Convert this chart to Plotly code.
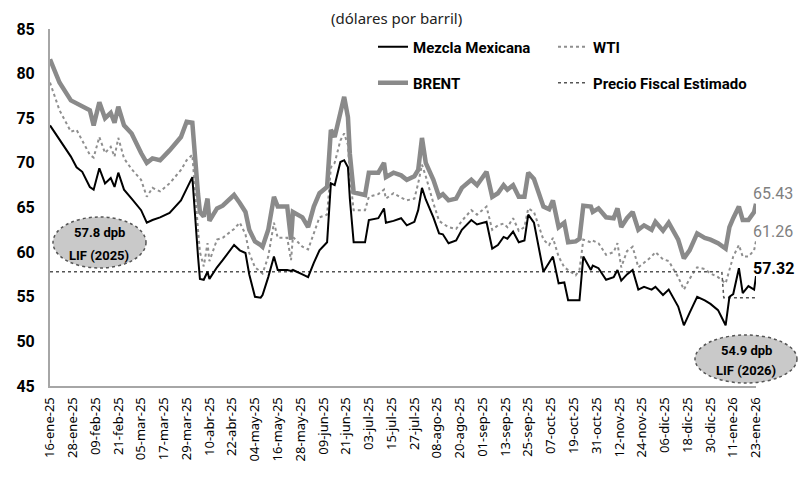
import plotly.graph_objects as go

# ---------------- data ----------------
dates = [
    "2025-01-16","2025-01-21","2025-01-27","2025-01-30","2025-02-02","2025-02-06","2025-02-08","2025-02-11","2025-02-14","2025-02-17",
    "2025-02-19","2025-02-21","2025-02-24","2025-02-28","2025-03-05","2025-03-08","2025-03-11","2025-03-15","2025-03-20","2025-03-26",
    "2025-03-29","2025-04-01","2025-04-04","2025-04-05","2025-04-07","2025-04-09","2025-04-10","2025-04-14","2025-04-17","2025-04-23",
    "2025-04-26","2025-04-29","2025-05-01","2025-05-04","2025-05-07","2025-05-08","2025-05-11","2025-05-14","2025-05-16","2025-05-21",
    "2025-05-23","2025-05-24","2025-05-29","2025-06-01","2025-06-04","2025-06-07","2025-06-11","2025-06-13","2025-06-15","2025-06-18",
    "2025-06-20","2025-06-22","2025-06-23","2025-06-25","2025-07-01","2025-07-03","2025-07-08","2025-07-11","2025-07-12","2025-07-16",
    "2025-07-20","2025-07-23","2025-07-27","2025-07-29","2025-07-31","2025-08-02","2025-08-06","2025-08-09","2025-08-11","2025-08-14",
    "2025-08-18","2025-08-21","2025-08-26","2025-08-29","2025-09-03","2025-09-06","2025-09-09","2025-09-12","2025-09-14","2025-09-17",
    "2025-09-20","2025-09-23","2025-09-25","2025-09-28","2025-10-03","2025-10-06","2025-10-08","2025-10-11","2025-10-14","2025-10-16",
    "2025-10-20","2025-10-22","2025-10-24","2025-10-28","2025-10-29","2025-11-01","2025-11-05","2025-11-09","2025-11-11","2025-11-13",
    "2025-11-16","2025-11-19","2025-11-22","2025-11-25","2025-11-29","2025-12-01","2025-12-05","2025-12-08","2025-12-13","2025-12-16",
    "2025-12-19","2025-12-23","2025-12-27","2025-12-30","2026-01-03","2026-01-07","2026-01-09","2026-01-11","2026-01-14","2026-01-16",
    "2026-01-19","2026-01-22","2026-01-23",
]

brent = [
    81.6,79.0,77.0,76.7,76.3,75.9,74.2,76.8,75.0,75.6,
    74.5,76.3,74.2,73.3,71.1,70.0,70.5,70.3,71.4,72.9,
    74.6,74.5,66.5,64.5,64.0,66.0,63.5,64.9,65.2,66.4,
    65.5,64.5,62.5,61.2,60.8,60.6,62.5,66.2,65.1,65.1,
    61.4,64.5,63.9,62.8,65.1,66.6,67.3,73.7,72.9,75.9,
    77.4,75.1,71.0,66.7,66.4,68.9,68.9,70.0,68.4,68.9,
    68.6,68.1,68.5,69.2,72.8,70.0,68.1,66.2,66.5,65.8,
    66.0,67.2,68.1,67.5,69.0,66.2,66.6,67.5,67.0,67.5,
    66.2,66.2,68.9,68.2,65.1,64.8,65.8,62.8,63.3,61.1,
    61.2,61.5,65.2,65.1,64.5,64.9,63.9,63.8,64.9,62.8,
    63.8,64.5,62.5,63.0,62.5,63.4,62.4,63.3,61.4,59.3,
    60.2,62.1,61.6,61.4,61.0,60.4,62.8,63.8,65.1,63.6,
    63.6,64.5,65.43,
]

wti = [
    79.0,75.9,73.5,73.7,72.5,70.9,70.6,72.9,71.1,71.8,
    70.7,72.8,70.5,69.3,68.1,66.2,67.2,66.8,67.7,69.2,
    70.3,70.9,62.5,60.0,58.4,61.0,59.0,61.4,61.6,62.6,
    63.3,62.0,59.9,58.3,57.8,57.6,59.5,63.3,61.6,61.6,
    59.1,61.7,60.6,60.3,62.1,63.9,64.2,69.5,70.0,72.5,
    73.3,72.0,68.5,64.7,64.7,66.2,66.5,67.0,66.0,66.6,
    66.1,65.8,66.0,67.7,69.8,68.5,65.5,63.5,63.2,62.8,
    62.6,63.5,64.7,64.2,65.1,62.5,63.0,63.2,62.8,63.8,
    62.4,62.8,64.9,64.5,61.4,60.8,61.6,59.5,58.3,58.0,
    57.4,58.0,61.4,61.1,61.3,61.0,59.7,60.0,61.0,58.3,
    60.1,60.6,58.3,58.8,59.5,60.0,59.2,59.0,57.2,55.8,
    57.0,58.3,58.1,57.6,57.2,56.5,58.0,59.5,60.8,59.5,
    59.5,60.2,61.26,
]

mezcla = [
    74.2,72.6,70.7,69.5,69.0,67.3,67.0,69.4,67.7,68.3,
    67.3,68.9,67.0,66.0,64.7,63.3,63.6,63.9,64.4,65.8,
    67.2,68.4,59.5,57.0,56.9,57.8,57.0,58.3,59.1,60.8,
    60.2,59.9,57.5,55.0,54.9,55.2,57.2,59.5,58.0,58.0,
    57.9,58.0,57.5,57.2,58.8,60.2,61.1,67.7,67.5,70.1,
    70.3,69.5,66.0,61.1,61.1,63.6,63.8,64.9,63.3,63.5,
    63.8,63.0,63.4,64.7,67.2,65.9,63.9,62.1,62.0,61.0,
    61.3,62.5,63.6,63.1,63.4,60.4,60.8,61.7,61.5,62.3,
    61.1,61.3,64.2,63.3,57.8,58.8,59.5,56.5,56.6,54.6,
    54.6,54.6,59.5,58.0,58.5,58.2,56.9,57.2,58.0,56.8,
    57.5,58.0,55.8,56.1,55.8,56.1,55.2,55.8,53.9,51.8,
    53.2,55.0,54.6,54.2,53.5,51.8,55.0,55.3,58.2,55.4,
    56.2,55.8,57.32,
]

fiscal_dates = ["2025-01-16", "2026-01-05", "2026-01-06", "2026-01-23"]
fiscal = [57.8, 57.8, 54.9, 54.9]

tick_dates = [
    "2025-01-16","2025-01-28","2025-02-09","2025-02-21","2025-03-05","2025-03-17","2025-03-29","2025-04-10",
    "2025-04-22","2025-05-04","2025-05-16","2025-05-28","2025-06-09","2025-06-21","2025-07-03","2025-07-15",
    "2025-07-27","2025-08-08","2025-08-20","2025-09-01","2025-09-13","2025-09-25","2025-10-07","2025-10-19",
    "2025-10-31","2025-11-12","2025-11-24","2025-12-06","2025-12-18","2025-12-30","2026-01-11","2026-01-23",
]
tick_labels = [
    "16-ene-25","28-ene-25","09-feb-25","21-feb-25","05-mar-25","17-mar-25","29-mar-25","10-abr-25",
    "22-abr-25","04-may-25","16-may-25","28-may-25","09-jun-25","21-jun-25","03-jul-25","15-jul-25",
    "27-jul-25","08-ago-25","20-ago-25","01-sep-25","13-sep-25","25-sep-25","07-oct-25","19-oct-25",
    "31-oct-25","12-nov-25","24-nov-25","06-dic-25","18-dic-25","30-dic-25","11-ene-26","23-ene-26",
]

# ---------------- layout geometry ----------------
W, H = 798, 481
L, R, T, B = 50, 42, 29, 95
PW, PH = W - L - R, H - T - B

def px(xp):
    return (xp - L) / PW

def py(yp):
    return (H - B - yp) / PH

COND = "Roboto, Liberation Sans, sans-serif"

fig = go.Figure()
fig.add_trace(go.Scatter(x=dates, y=brent, name="BRENT", mode="lines",
                         line=dict(color="#8a8a8a", width=4.5), legend="legend3"))
fig.add_trace(go.Scatter(x=dates, y=wti, name="WTI", mode="lines",
                         line=dict(color="#8f8f8f", width=2, dash="dot"), legend="legend2"))
fig.add_trace(go.Scatter(x=fiscal_dates, y=fiscal, name="Precio Fiscal Estimado", mode="lines",
                         line=dict(color="#555555", width=1.5, dash="dot"), legend="legend4"))
fig.add_trace(go.Scatter(x=dates, y=mezcla, name="Mezcla Mexicana", mode="lines",
                         line=dict(color="#000000", width=2), legend="legend"))

legend_font = dict(family=COND, size=15, color="#000000", weight="bold")
common_leg = dict(orientation="h", xanchor="left", yanchor="middle", itemwidth=30,
                  font=legend_font, bgcolor="rgba(0,0,0,0)")

fig.update_layout(
    width=W, height=H,
    margin=dict(l=L, r=R, t=T, b=B, pad=0),
    paper_bgcolor="white", plot_bgcolor="white",
    showlegend=True,
    legend=dict(x=px(373), y=py(47), **common_leg),
    legend2=dict(x=px(553), y=py(47), **common_leg),
    legend3=dict(x=px(373), y=py(83), **common_leg),
    legend4=dict(x=px(553), y=py(83), **common_leg),
    xaxis=dict(
        type="date",
        range=["2025-01-16", "2026-01-23"],
        tickmode="array", tickvals=tick_dates, ticktext=tick_labels,
        tickangle=-90,
        tickfont=dict(family="Noto Sans, DejaVu Sans, sans-serif", size=13, color="#000000"),
        showgrid=False, zeroline=False,
        showline=True, linecolor="#a6a6a6", linewidth=2,
        ticks="", ticklabelstandoff=4,
    ),
    yaxis=dict(
        range=[45, 85], tickmode="array", tickvals=[45, 50, 55, 60, 65, 70, 75, 80, 85],
        tickfont=dict(family=COND, size=16, color="#000000", weight="bold"),
        showgrid=False, zeroline=False,
        showline=True, linecolor="#a6a6a6", linewidth=2,
        ticks="", ticklabelstandoff=10,
    ),
)

# Title text
fig.add_annotation(x=px(396), y=py(18), xref="paper", yref="paper",
                   text="(dólares por barril)", showarrow=False,
                   font=dict(family="Noto Sans, DejaVu Sans, sans-serif", size=15, color="#222222"),
                   xanchor="center", yanchor="middle")

# Ellipse callouts
ell_font = dict(family=COND, size=13, color="#000000", weight="bold")
fig.add_shape(type="circle", xref="paper", yref="paper",
              x0=px(53), x1=px(146), y0=py(268), y1=py(217),
              fillcolor="#c9c9c9", line=dict(color="#555555", width=1.5, dash="dot"), layer="above")
fig.add_shape(type="circle", xref="paper", yref="paper",
              x0=px(695), x1=px(797), y0=py(383), y1=py(335),
              fillcolor="#c9c9c9", line=dict(color="#555555", width=1.5, dash="dot"), layer="above")
for (cx, cy, txt) in [(99, 232, "57.8 dpb"), (99, 255, "LIF (2025)"),
                      (746, 350, "54.9 dpb"), (746, 370, "LIF (2026)")]:
    fig.add_annotation(x=px(cx), y=py(cy), xref="paper", yref="paper", text=txt,
                       showarrow=False, xanchor="center", yanchor="middle", font=ell_font)

# End-of-series value labels
end_labels = [
    (brent[-1], "#7f7f7f", "normal", 10),
    (wti[-1], "#7f7f7f", "normal", 9),
    (mezcla[-1], "#000000", "bold", 8),
]
for val, col, wt, ys in end_labels:
    fig.add_annotation(x=dates[-1], y=val, text=f"{val:.2f}", showarrow=False,
                       xanchor="left", yanchor="middle", xshift=-5, yshift=ys,
                       font=dict(family=COND, size=16, color=col, weight=wt))

fig.write_html("out.html", config={"displayModeBar": False},
               post_script="document.body.style.margin='0px';")
